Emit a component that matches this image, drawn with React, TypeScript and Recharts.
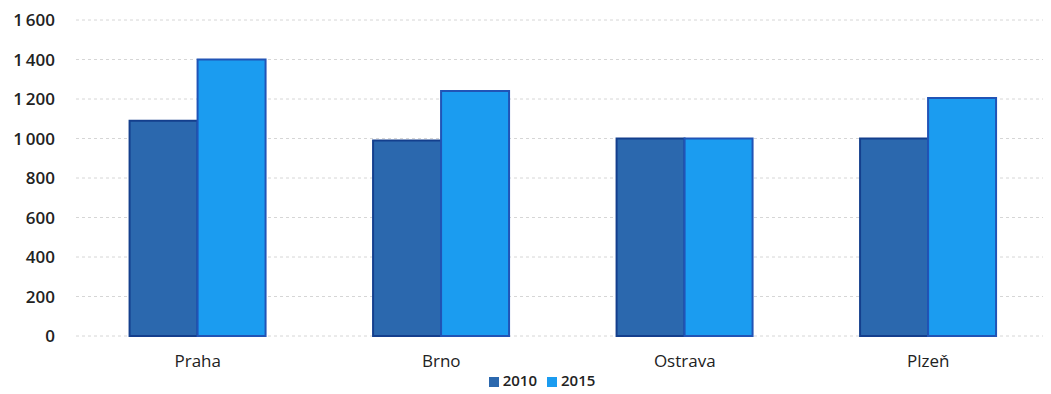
import { BarChart, Bar, XAxis, YAxis, CartesianGrid, Legend } from 'recharts';

// Počty podle měst, roky 2010 a 2015
const cities = ['Praha', 'Brno', 'Ostrava', 'Plzeň'];
const values2010 = [1090, 990, 1000, 1000];
const values2015 = [1400, 1240, 1000, 1205];
const yTicks = [0, 200, 400, 600, 800, 1000, 1200, 1400, 1600];

const data = cities.map((city, i) => ({
  city,
  y2010: values2010[i],
  y2015: values2015[i],
}));

const fontFamily = '"Open Sans", "Noto Sans", sans-serif';

// české formátování tisíců s úzkou mezerou
const formatTick = (v: number) => (v >= 1000 ? `${Math.floor(v / 1000)}\u2009${String(v % 1000).padStart(3, '0')}` : String(v));

export default function App() {
  return (
    <div style={{ width: 1043, height: 386, background: '#fff', fontFamily }}>
      <BarChart
        width={1043}
        height={386}
        data={data}
        margin={{ top: 12, right: 1, left: 0, bottom: 4 }}
        barCategoryGap="22%"
        barGap={0}
      >
        <CartesianGrid vertical={false} stroke="#d6d6d6" strokeDasharray="3 3" />
        <XAxis
          dataKey="city"
          axisLine={false}
          tickLine={false}
          tickSize={0}
          tickMargin={19}
          height={34}
          tick={{ fill: '#222', fontSize: 17, fontFamily }}
        />
        <YAxis
          domain={[0, 1600]}
          ticks={yTicks}
          axisLine={false}
          tickLine={false}
          tickSize={0}
          tickMargin={21}
          width={68}
          tickFormatter={formatTick}
          tick={{ fill: '#222', fontSize: 17, fontWeight: 600, fontFamily }}
        />
        <Legend
          verticalAlign="bottom"
          align="center"
          iconType="square"
          iconSize={10}
          height={20}
          wrapperStyle={{ fontSize: 15, fontWeight: 600, fontFamily, left: 18 }}
          formatter={(value) => <span style={{ color: '#222' }}>{value}</span>}
        />
        <Bar dataKey="y2010" name="2010" fill="#2b68ae" stroke="#143f8d" strokeWidth={2} isAnimationActive={false} />
        <Bar dataKey="y2015" name="2015" fill="#1b9cf0" stroke="#2154b6" strokeWidth={2} isAnimationActive={false} />
      </BarChart>
    </div>
  );
}
